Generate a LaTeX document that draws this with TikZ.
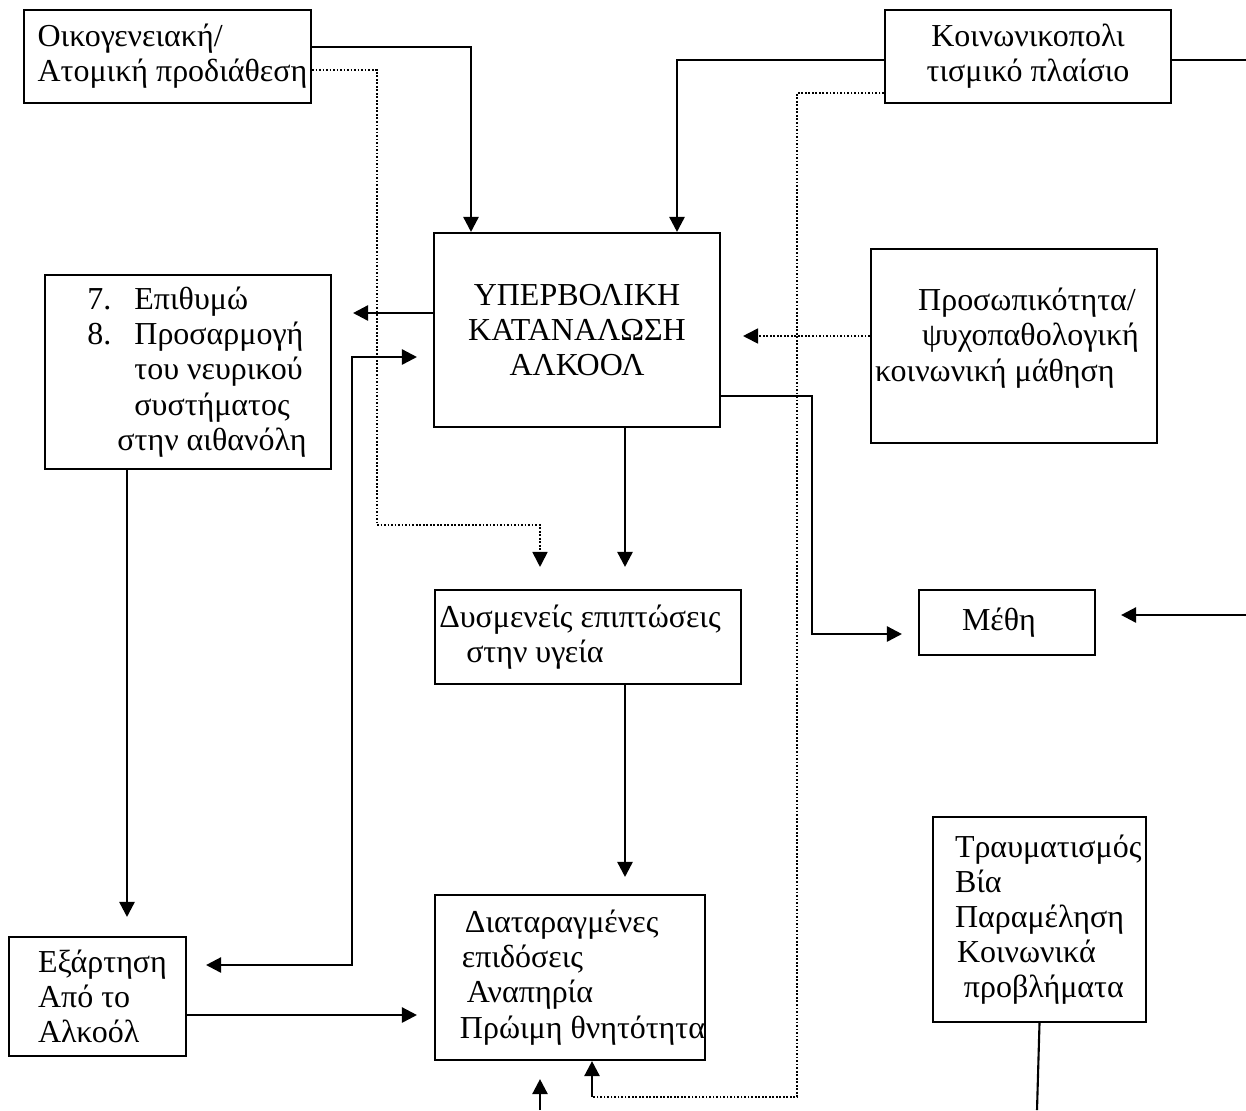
\documentclass[tikz,border=0pt]{standalone}
\usepackage{fontspec}
\setmainfont{Liberation Serif}
\usetikzlibrary{arrows.meta}

\begin{document}
\begin{tikzpicture}[x=0.02cm, y=-0.02cm,
        box/.style={draw, line width=1.2pt, inner sep=2pt, font=\fontsize{18.2}{20}\selectfont},
        arr/.style={line width=1.4pt, -{Triangle[length=0.3cm, width=0.3cm]}},
        dots/.style={line width=1pt, dash pattern=on 1pt off 1pt}]
    \useasboundingbox (0,0) rectangle (1246,1110);

    \node[box, align=left, minimum width=5.74cm, minimum height=1.86cm] (fam) at (167.5,56.5) {Οικογενειακή/\\Ατομική προδιάθεση\hspace*{-0.2cm}};
    \node[box, align=center, minimum width=5.72cm, minimum height=1.86cm] (soc) at (1028,56.5) {Κοινωνικοπολι\\ τισμικό πλαίσιο};
    \node[box, align=center, minimum width=5.72cm, minimum height=3.88cm] (alc) at (577,330) {ΥΠΕΡΒΟΛΙΚΗ\\ ΚΑΤΑΝΑΛΩΣΗ\\ ΑΛΚΟΟΛ};
    \node[box, align=left, minimum width=5.72cm, minimum height=3.88cm] (crave) at (188,372)
        {\hspace*{0.36cm}\makebox[0.94cm][l]{7.}Επιθυμώ\\ \hspace*{0.36cm}\makebox[0.94cm][l]{8.}Προσαρμογή\\
         \hspace*{1.3cm}του νευρικού\\ \hspace*{1.3cm}συστήματος\\ \hspace*{0.96cm}στην αιθανόλη};
    \node[box, align=left, minimum width=5.72cm, minimum height=3.88cm] (pers) at (1014,346)
        {\hspace*{0.58cm}Προσωπικότητα/\\ \hspace*{0.66cm}ψυχοπαθολογική\\ \hspace*{-0.28cm}κοινωνική μάθηση\\[-0.25cm]\mbox{}};
    \node[box, align=left, minimum width=6.12cm, minimum height=1.88cm] (health) at (588,637)
        {Δυσμενείς επιπτώσεις\hspace*{0.32cm}\\ \hspace*{0.54cm}στην υγεία};
    \node[box, minimum width=3.52cm, minimum height=1.3cm] (drunk) at (1007,622.5) {Μέθη\hspace*{0.32cm}};
    \node[box, align=left, minimum width=5.4cm, minimum height=3.3cm] (perf) at (570,977.5)
        {\hspace*{0.1cm}Διαταραγμένες\\ \hspace*{0.04cm}επιδόσεις\\ \hspace*{0.14cm}Αναπηρία\\ Πρώιμη θνητότητα\hspace*{-0.5cm}};
    \node[box, align=left, minimum width=3.54cm, minimum height=2.38cm] (dep) at (97.5,996.5) {Εξάρτηση\hspace*{-0.2cm}\\ Από το\\ Αλκοόλ};
    \node[box, align=left, minimum width=4.26cm, minimum height=4.1cm] (harm) at (1039.5,919.5)
        {Τραυματισμός\hspace*{-0.5cm}\\ Βία\\ Παραμέληση\hspace*{-0.5cm}\\ \hspace*{0.04cm}Κοινωνικά\\ \hspace*{0.18cm}προβλήματα\hspace*{-0.5cm}};

    \coordinate (socEnd) at (1246,60);
    \coordinate (drunkIn) at (1246,615);
    \coordinate (loopEnd) at (592,1097);
    \coordinate (perfIn) at (540,1110);
    \coordinate (harmEnd) at (1037,1110);

    \draw[arr] (fam.east |- 0,47) -- (471,47) -- (alc.north -| 471,0);
    \draw[arr, dots, shorten >=0.44cm] (fam.east |- 0,70) -- (377,70) -- (377,525) -- (540,525) -- (health.north -| 540,0);
    \draw[arr] (soc.west |- 0,60) -- (677,60) -- (alc.north -| 677,0);
    \draw[line width=1.4pt] (soc.east |- 0,60) -- (socEnd);
    \draw[dots] (soc.west |- 0,93) -- (797,93) -- (797,1097) -- (loopEnd);
    \draw[arr] (loopEnd) -- (perf.south -| 592,0);
    \draw[arr, shorten >=0.36cm] (perfIn) -- (perf.south -| 540,0);
    \draw[line width=1.2pt] (harm.south) -- (harmEnd);
    \draw[arr, shorten >=0.5cm] (drunkIn) -- (drunk.east |- 0,615);
    \draw[arr, shorten >=0.32cm] (alc.east |- 0,396) -- (812,396) -- (812,634) -- (drunk.west |- 0,634);
    \draw[arr, shorten >=0.44cm] (alc.south -| 625,0) -- (health.north -| 625,0);
    \draw[arr, shorten >=0.42cm] (alc.west |- 0,313) -- (crave.east |- 0,313);
    \draw[arr, dots, shorten >=0.44cm] (pers.west |- 0,336) -- (alc.east |- 0,336);
    \draw[line width=1.4pt, {Triangle[length=0.3cm, width=0.3cm]}-{Triangle[length=0.3cm, width=0.3cm]}, shorten <=0.38cm, shorten >=0.32cm]
        (dep.east |- 0,965) -- (352,965) -- (352,357) -- (alc.west |- 0,357);
    \draw[arr, shorten >=0.38cm] (crave.south -| 127,0) -- (dep.north -| 127,0);
    \draw[arr, shorten >=0.34cm] (dep.east |- 0,1015) -- (perf.west |- 0,1015);
    \draw[arr, shorten >=0.34cm] (health.south -| 625,0) -- (perf.north -| 625,0);
\end{tikzpicture}
\end{document}
